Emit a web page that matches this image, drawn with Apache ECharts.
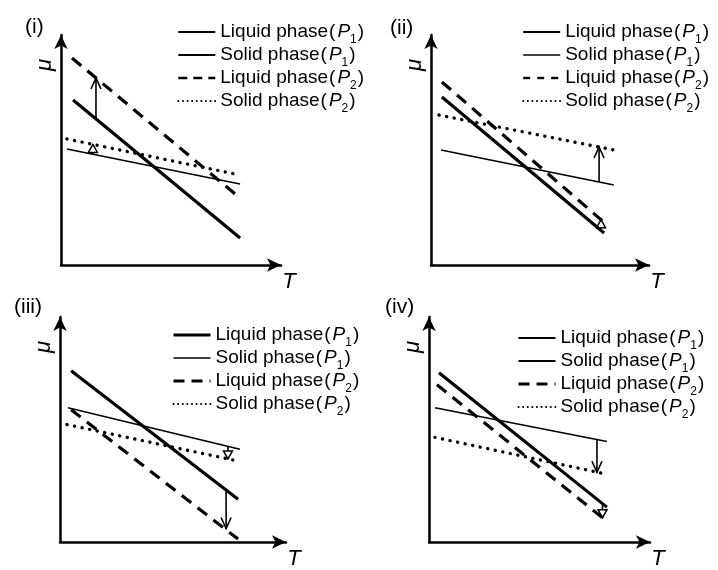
<!DOCTYPE html>
<html>
<head>
<meta charset="utf-8">
<script src="https://cdn.jsdelivr.net/npm/echarts@6/dist/echarts.min.js"></script>
<style>
html,body{margin:0;padding:0;background:#fff;}
#chart{width:718px;height:570px;}
</style>
</head>
<body>
<div id="chart"></div>
<script>
// ---------- data (T, mu), arbitrary units 0..10 ----------
const panelLabels = ['(i)', '(ii)', '(iii)', '(iv)'];
const seriesNames = ['Liquid phase(P1)', 'Solid phase(P1)', 'Liquid phase(P2)', 'Solid phase(P2)'];
const axisNameX = 'T';
const axisNameY = 'μ';

// panel (i)
const liquidP1_i = [[0.55, 7.17], [8.14, 1.17]];
const solidP1_i  = [[0.27, 5.04], [8.14, 3.52]];
const liquidP2_i = [[0.50, 9.00], [8.14, 2.91]];
const solidP2_i  = [[0.27, 5.48], [8.14, 3.91]];
const bigArrow_i   = [[1.59, 6.35, 8.13]];
const smallArrow_i = [[1.45, 4.81, 5.24]];

// panel (ii)
const liquidP1_ii = [[0.50, 7.30], [7.94, 1.39]];
const solidP1_ii  = [[0.46, 5.00], [8.39, 3.48]];
const liquidP2_ii = [[0.50, 7.96], [8.03, 1.78]];
const solidP2_ii  = [[0.37, 6.52], [8.39, 5.00]];
const bigArrow_ii   = [[7.71, 3.61, 5.13]];
const smallArrow_ii = [[7.80, 1.50, 1.97]];

// panel (iii)
const liquidP1_iii = [[0.49, 7.61], [7.88, 1.90]];
const solidP1_iii  = [[0.35, 5.97], [7.96, 4.12]];
const liquidP2_iii = [[0.49, 5.88], [7.88, 0.13]];
const solidP2_iii  = [[0.31, 5.22], [7.96, 3.58]];
const bigArrow_iii   = [[7.35, 2.31, 0.60]];
const smallArrow_iii = [[7.43, 4.25, 3.69]];

// panel (iv)
const liquidP1_iv = [[0.45, 7.52], [8.05, 1.55]];
const solidP1_iv  = [[0.27, 5.97], [8.05, 4.47]];
const liquidP2_iv = [[0.36, 6.99], [7.92, 1.02]];
const solidP2_iv  = [[0.27, 4.65], [8.05, 3.01]];
const bigArrow_iv   = [[7.60, 4.56, 3.10]];
const smallArrow_iv = [[7.85, 1.71, 1.08]];

const panelSeries = [
  [liquidP1_i, solidP1_i, liquidP2_i, solidP2_i],
  [liquidP1_ii, solidP1_ii, liquidP2_ii, solidP2_ii],
  [liquidP1_iii, solidP1_iii, liquidP2_iii, solidP2_iii],
  [liquidP1_iv, solidP1_iv, liquidP2_iv, solidP2_iv]
];
const panelBigArrows = [bigArrow_i, bigArrow_ii, bigArrow_iii, bigArrow_iv];
const panelSmallArrows = [smallArrow_i, smallArrow_ii, smallArrow_iii, smallArrow_iv];

// ---------- layout & style ----------
const FONT = 'Liberation Sans, Arial, sans-serif';
const grids = [
  {left: 61,  top: 35,  width: 220, height: 230},
  {left: 431, top: 35,  width: 218, height: 230},
  {left: 60,  top: 317, width: 226, height: 226},
  {left: 429, top: 317, width: 221, height: 226}
];
const titlePos = [[25, 17], [390, 18], [14, 297], [385, 297]];
const legendPos = [[177, 22], [522, 22], [172, 325], [517, 328]];

const lineStyles = [
  {color: '#000', width: 3.2, type: 'solid', cap: 'butt'},
  {color: '#000', width: 1.5, type: 'solid'},
  {color: '#000', width: 3.2, type: [12, 8], cap: 'butt'},
  {color: '#000', width: 3.4, type: [0.1, 7.6], cap: 'round'}
];
const legendLineStyles = [
  [{width: 2.2}, {width: 1.8}, {width: 2.6, type: [9, 6]}, {width: 2, type: [0.1, 4.5], cap: 'round'}],
  [{width: 2.0}, {width: 1.6}, {width: 2.4, type: [7, 7]}, {width: 2, type: [0.1, 4.5], cap: 'round'}],
  [{width: 3.0}, {width: 1.3}, {width: 3.0, type: [11, 7]}, {width: 2, type: [0.1, 4.5], cap: 'round'}],
  [{width: 1.8}, {width: 1.8}, {width: 3.0, type: [11, 7]}, {width: 2, type: [0.1, 4.5], cap: 'round'}]
];

function uniq(name, p) { return name + '\u200b'.repeat(p); }
function legendFormatter(name) {
  const n = name.replace(/\u200b/g, '');
  const m = n.match(/^(.*)\(P(\d)\)$/);
  return m[1] + '{q|(}{p|P}{s|' + m[2] + '}{q|)}';
}

function arrowRenderer(kind) {
  return function (params, api) {
    const x = api.value(0), y0 = api.value(1), y1 = api.value(2);
    const p0 = api.coord([x, y0]);
    const p1 = api.coord([x, y1]);
    const dir = p1[1] > p0[1] ? 1 : -1;
    const children = [{
      type: 'line',
      shape: {x1: p0[0], y1: p0[1], x2: p1[0], y2: p1[1]},
      style: {stroke: '#000', lineWidth: 1.6}
    }];
    if (kind === 'v') {
      const L = 11, W = 5;
      children.push({
        type: 'polyline',
        shape: {points: [[p1[0] - W, p1[1] - dir * L], [p1[0], p1[1]], [p1[0] + W, p1[1] - dir * L]]},
        style: {stroke: '#000', fill: null, lineWidth: 1.6}
      });
    } else {
      const L = 8, W = 4.5;
      children.push({
        type: 'polygon',
        shape: {points: [[p1[0] - W, p1[1] - dir * L], [p1[0], p1[1]], [p1[0] + W, p1[1] - dir * L]]},
        style: {stroke: '#000', fill: '#fff', lineWidth: 1.5}
      });
    }
    return {type: 'group', children: children};
  };
}

const option = {
  backgroundColor: '#fff',
  animation: false,
  title: [], grid: [], xAxis: [], yAxis: [], legend: [], series: []
};

for (let p = 0; p < 4; p++) {
  option.title.push({
    text: panelLabels[p], left: titlePos[p][0], top: titlePos[p][1], padding: 0,
    textStyle: {fontSize: 21, fontWeight: 'normal', color: '#000', fontFamily: FONT}
  });
  option.grid.push(Object.assign({containLabel: false}, grids[p]));
  option.xAxis.push({
    type: 'value', gridIndex: p, min: 0, max: 10,
    name: axisNameX, nameLocation: 'end', nameGap: 8,
    nameTextStyle: {fontSize: 22, fontStyle: 'italic', color: '#000', fontFamily: FONT,
      align: 'center', verticalAlign: 'top', padding: [6, 0, 0, 0]},
    axisLine: {show: true, symbol: ['none', 'arrow'], symbolSize: [10, 14],
      lineStyle: {color: '#000', width: 2.5}},
    axisTick: {show: false}, axisLabel: {show: false}, splitLine: {show: false}
  });
  option.yAxis.push({
    type: 'value', gridIndex: p, min: 0, max: 10,
    name: axisNameY, nameLocation: 'end', nameGap: -30, nameRotate: 90,
    nameTextStyle: {fontSize: 22, fontStyle: 'italic', color: '#000', fontFamily: FONT,
      align: 'center', verticalAlign: 'bottom', padding: [0, 0, 5, 0]},
    axisLine: {show: true, symbol: ['none', 'arrow'], symbolSize: [10, 14],
      lineStyle: {color: '#000', width: 2.5}},
    axisTick: {show: false}, axisLabel: {show: false}, splitLine: {show: false}
  });
  option.legend.push({
    orient: 'vertical', left: legendPos[p][0], top: legendPos[p][1], padding: 0,
    itemWidth: 37, itemHeight: 14, itemGap: -1, selectedMode: false,
    data: seriesNames.map((n, k) => ({name: uniq(n, p), lineStyle: legendLineStyles[p][k], itemStyle: {opacity: 0}})),
    formatter: legendFormatter,
    textStyle: {
      fontSize: 19, color: '#000', fontFamily: FONT, lineHeight: 20,
      rich: {
        q: {fontSize: 19, fontFamily: FONT, color: '#000', lineHeight: 20, padding: [0, 1, 0, 1]},
        p: {fontSize: 19, fontStyle: 'italic', fontFamily: FONT, color: '#000', lineHeight: 20, padding: [0, 0, 0, 1]},
        s: {fontSize: 12, fontFamily: FONT, color: '#000', lineHeight: 12, verticalAlign: 'bottom', padding: [0, 0, -4, 0]}
      }
    }
  });
  panelSeries[p].forEach((data, k) => {
    option.series.push({
      name: uniq(seriesNames[k], p), type: 'line', xAxisIndex: p, yAxisIndex: p,
      data: data, symbol: 'none', showSymbol: false, silent: true,
      lineStyle: lineStyles[k]
    });
  });
  option.series.push({
    type: 'custom', xAxisIndex: p, yAxisIndex: p, silent: true,
    data: panelBigArrows[p], encode: {x: 0, y: [1, 2]},
    renderItem: arrowRenderer('v')
  });
  option.series.push({
    type: 'custom', xAxisIndex: p, yAxisIndex: p, silent: true,
    data: panelSmallArrows[p], encode: {x: 0, y: [1, 2]},
    renderItem: arrowRenderer('tri')
  });
}

const chart = echarts.init(document.getElementById('chart'), null, {renderer: 'canvas'});
chart.setOption(option);
</script>
</body>
</html>
